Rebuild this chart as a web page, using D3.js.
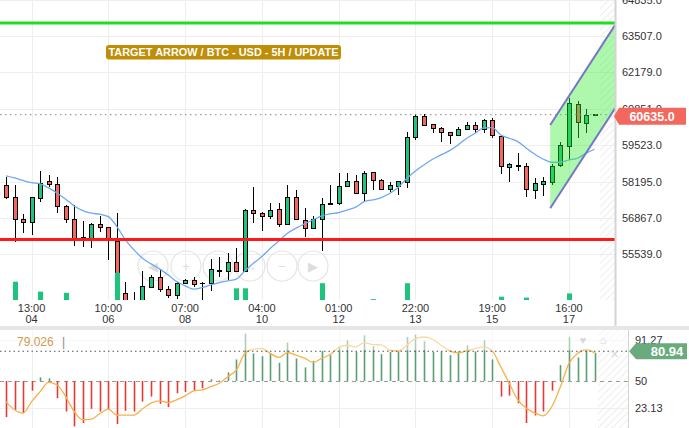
<!DOCTYPE html>
<html>
<head>
<meta charset="utf-8">
<script src="https://cdn.jsdelivr.net/npm/d3@7"></script>
<style>
  body { margin: 0; background: #fff; }
  svg { display: block; font-family: "Liberation Sans", Arial, sans-serif; }
</style>
</head>
<body>
<div id="chart"></div>
<script>
// BTC/USD 5H candles
const candleOpen = [
  58035, 57622, 56820, 56710, 57571, 58181, 58097, 57294, 56820, 56163,
  56112, 56638, 56528, 56003, 54120, 53840, 53803, 54339, 54690, 54241,
  54033, 54485, 54569, 54478, 54460, 54916, 54908, 55251, 54908, 57123,
  57039, 56929, 57185, 56638, 57622, 56783, 56492, 56820, 57367, 57404,
  58024, 58206, 57768, 58520, 58243, 57914, 58024, 58144, 59811, 60577,
  60260, 60140, 59994, 59884, 60103, 60249, 60103, 60431, 59848, 58717,
  58775, 58753, 57863, 58097, 58155, 58775, 59468, 61015, 60322, 60620];
const candleHigh = [
  58352, 58060, 57002, 57622, 58582, 58425, 58352, 57331, 57331, 56747,
  56674, 56929, 56528, 57039, 54544, 54179, 54934, 54788, 54970, 54398,
  54544, 54631, 54726, 54544, 55372, 55445, 55602, 55773, 57196, 57987,
  57075, 57404, 57404, 58060, 57878, 57221, 56929, 57586, 58060, 58520,
  58498, 58425, 58582, 58556, 58301, 58181, 58206, 60012, 60661, 60650,
  60260, 60198, 60016, 60198, 60369, 60380, 60479, 60504, 59884, 58863,
  59228, 58863, 58337, 58374, 58826, 59651, 61234, 61136, 60833, 60650];
const candleLow = [
  57550, 56003, 56331, 56258, 57440, 57987, 57039, 56674, 55857, 55820,
  55784, 56368, 55346, 53730, 53694, 53657, 53767, 54303, 54179, 53938,
  53912, 54449, 54361, 53840, 54204, 54726, 54606, 54908, 54908, 56674,
  56404, 56820, 56550, 56623, 56820, 56163, 56477, 55674, 57331, 57331,
  57987, 57732, 57440, 57878, 57914, 57827, 57695, 57973, 59713, 60234,
  59957, 59651, 59567, 59884, 60078, 59957, 59957, 59775, 58483, 58192,
  58593, 57644, 57571, 57681, 58071, 58717, 58983, 59775, 59957, 60610];
const candleClose = [
  57608, 56820, 56710, 57622, 58133, 58097, 57294, 56820, 56090, 56112,
  56638, 56528, 56090, 53803, 53785, 53767, 54368, 54690, 54241, 54022,
  54485, 54569, 54449, 54460, 54970, 54959, 55251, 54908, 57123, 57039,
  56929, 57148, 56638, 57622, 56820, 56492, 56820, 57367, 57404, 58024,
  58206, 57768, 58498, 58243, 57914, 58035, 58181, 59811, 60577, 60234,
  60140, 59994, 59884, 60103, 60249, 60089, 60431, 59884, 58753, 58801,
  58764, 57914, 58108, 58192, 58753, 59519, 61052, 60359, 60614, 60635];
const volume = [
  0, 61, 0, 0, 28, 0, 0, 24, 0, 0,
  0, 0, 0, 91, 0, 0, 0, 0, 0, 0,
  0, 0, 0, 0, 0, 0, 0, 39, 39, 0,
  0, 0, 0, 0, 0, 0, 0, 56, 0, 0,
  0, 0, 0, 3, 0, 0, 0, 56, 0, 0,
  0, 0, 0, 0, 0, 0, 0, 0, 11, 0,
  0, 8, 0, 0, 0, 0, 22, 0, 0, 0];
const movingAvg = [
  58400, 58327, 58235, 58155, 58108, 57962, 57768, 57550, 57305, 57134,
  57039, 57002, 56915, 56550, 56065, 55700, 55397, 55189, 55007, 54788,
  54544, 54387, 54266, 54325, 54423, 54507, 54569, 54631, 54934, 55215,
  55456, 55762, 56028, 56309, 56492, 56648, 56794, 56940, 57013, 57061,
  57159, 57258, 57462, 57524, 57608, 57768, 57987, 58316, 58582, 58801,
  59009, 59166, 59323, 59530, 59775, 59957, 60155, 60165, 59895, 59775,
  59651, 59410, 59191, 59009, 58899, 58899, 58983, 59045, 59228, 59374];

// oscillator panel
const oscBars = [
  13.7, 21, 17.7, 40.3, 53.7, 52.7, 32.7, 19.3, 4.3, 7.7,
  22, 19.3, 21.7, 6.7, 20, 19.3, 29.3, 34.3, 27, 23.7,
  37.7, 39, 40, 42.7, 51.7, 50.5, 58.7, 71.7, 97.7, 77.7,
  75, 77.7, 68.3, 88.7, 72.7, 63.7, 70.3, 80.3, 76, 85,
  91, 79.3, 96, 85, 77, 79.3, 79.7, 94.3, 96.7, 90,
  79.3, 79.7, 76, 79.7, 86, 79.7, 91, 71.7, 34.3, 35.3,
  27.7, 7.7, 15.3, 19.3, 40.3, 66, 94.3, 73.7, 81, 78.3];
const oscLine = [
  29.3, 21, 17.7, 29.3, 39.3, 48.7, 46, 34.3, 19.3, 11,
  11.7, 17, 21.7, 15.7, 15.7, 15.7, 22, 27.7, 30, 28.3,
  31, 35, 40, 41, 44.3, 47.7, 54.3, 61, 77.7, 82,
  82.7, 77.7, 73.7, 78.7, 76, 73, 68.7, 72.7, 76.7, 83.7,
  86, 84.3, 88.7, 86.7, 86.3, 81, 80, 86, 92.7, 94.3,
  92, 86, 80.3, 78.3, 80.3, 82.7, 84.3, 80.3, 64.3, 47.7,
  31, 22.7, 17.7, 15, 24.3, 44.3, 67.7, 77.7, 81.7, 78.3];

const priceTicks = [55539, 56867, 58195, 59523, 60851, 62179, 63507, 64835];
const oscTicks = [91.27, 50, 23.13];
const timeTickIndex = [3, 12, 21, 30, 39, 48, 57, 66];
const timeTickHour = ['13:00', '10:00', '07:00', '04:00', '01:00', '22:00', '19:00', '16:00'];
const timeTickDay = ['04', '06', '08', '10', '12', '13', '15', '17'];

const resistance = 63980;
const support = 56080;
const lastPrice = 60635;
const channelIndex = [63.8, 71.4];
const channelUpper = [60260, 63908];
const channelLower = [57221, 60870];
const oscLast = 80.94;
const oscLegend = '79.026';
const title = 'TARGET ARROW / BTC - USD - 5H / UPDATE';

const width = 689;
const height = 428;
const plotRight = 615;
const plotBottom = 300;
const oscTop = 330;
const oscRight = 628;

const green = '#1cc47d';
const red = '#f3685e';
const gridColor = '#eeeeee';

const svg = d3.select('#chart').append('svg')
  .attr('width', width)
  .attr('height', height);

// scales
const x = d3.scaleLinear().domain([0, 69]).range([6, 6 + 8.53 * 69]);
const y = d3.scaleLinear().domain([55539, 63507]).range([254.3, 36]);
const yVol = d3.scaleLinear().domain([0, 100]).range([plotBottom, 270]);
const yOsc = d3.scaleLinear().domain([23.13, 91.27]).range([407.7, 340]);

const defs = svg.append('defs');
defs.append('clipPath').attr('id', 'clip-main')
  .append('rect').attr('x', 0).attr('y', 0).attr('width', plotRight).attr('height', plotBottom);
defs.append('clipPath').attr('id', 'clip-osc')
  .append('rect').attr('x', 0).attr('y', oscTop).attr('width', oscRight).attr('height', height - oscTop);
const hatch = defs.append('pattern').attr('id', 'hatch')
  .attr('width', 5).attr('height', 5)
  .attr('patternUnits', 'userSpaceOnUse')
  .attr('patternTransform', 'rotate(45)');
hatch.append('line').attr('x1', 0).attr('y1', 0).attr('x2', 0).attr('y2', 5)
  .attr('stroke', '#e8e8e8').attr('stroke-width', 1.5);

// ---------- main panel ----------
const main = svg.append('g').attr('clip-path', 'url(#clip-main)');

main.append('rect').attr('x', 600).attr('y', 0).attr('width', plotRight - 600).attr('height', plotBottom)
  .attr('fill', 'url(#hatch)');

main.selectAll('.hgrid').data(priceTicks).join('line')
  .attr('class', 'hgrid')
  .attr('x1', 0).attr('x2', plotRight)
  .attr('y1', (d) => Math.round(y(d)) + 0.5).attr('y2', (d) => Math.round(y(d)) + 0.5)
  .attr('stroke', gridColor);

main.selectAll('.vgrid').data(timeTickIndex).join('line')
  .attr('class', 'vgrid')
  .attr('x1', (d) => Math.round(x(d)) + 0.5).attr('x2', (d) => Math.round(x(d)) + 0.5)
  .attr('y1', 0).attr('y2', plotBottom)
  .attr('stroke', gridColor);

// faint navigation buttons overlay
const navX = [153, 186, 218, 250, 282, 313];
const navGlyph = ['◀', '+', '', '↔', '−', '▶'];
main.selectAll('.nav').data(navX).join('circle')
  .attr('class', 'nav')
  .attr('cx', (d) => d).attr('cy', 266).attr('r', 15)
  .attr('fill', 'none').attr('stroke', '#e4e4e4').attr('stroke-width', 1.2);
main.selectAll('.navg').data(navX).join('text')
  .attr('class', 'navg')
  .attr('x', (d) => d).attr('y', 271)
  .attr('text-anchor', 'middle')
  .attr('font-size', 13)
  .attr('fill', '#dddddd')
  .text((d, i) => navGlyph[i]);

const candles = d3.range(candleOpen.length).map((i) => ({
  i,
  o: candleOpen[i],
  h: candleHigh[i],
  l: candleLow[i],
  c: candleClose[i],
}));

const cg = main.append('g').attr('shape-rendering', 'crispEdges');
cg.selectAll('.wick').data(candles).join('line')
  .attr('class', 'wick')
  .attr('x1', (d) => Math.round(x(d.i)) + 0.5).attr('x2', (d) => Math.round(x(d.i)) + 0.5)
  .attr('y1', (d) => y(d.h)).attr('y2', (d) => y(d.l))
  .attr('stroke', '#000');
cg.selectAll('.body').data(candles).join('rect')
  .attr('class', 'body')
  .attr('x', (d) => Math.round(x(d.i)) - 1.5)
  .attr('width', 4)
  .attr('y', (d) => y(Math.max(d.o, d.c)))
  .attr('height', (d) => Math.max(0.5, Math.abs(y(d.o) - y(d.c))))
  .attr('fill', (d) => (d.c >= d.o ? green : red))
  .attr('stroke', '#000');

// volume
main.append('g').selectAll('.vol').data(volume.map((v, i) => ({ v, i })).filter((d) => d.v > 0))
  .join('rect')
  .attr('class', 'vol')
  .attr('x', (d) => Math.round(x(d.i)) - 2)
  .attr('width', 5)
  .attr('y', (d) => yVol(d.v))
  .attr('height', (d) => plotBottom - yVol(d.v))
  .attr('fill', green);

// moving average
main.append('path')
  .datum(movingAvg)
  .attr('fill', 'none')
  .attr('stroke', '#6ea8f2')
  .attr('stroke-width', 1.3)
  .attr('d', d3.line().x((d, i) => x(i)).y((d) => y(d)).curve(d3.curveMonotoneX));

// last price dotted line
main.append('line')
  .attr('x1', 0).attr('x2', plotRight)
  .attr('y1', y(lastPrice)).attr('y2', y(lastPrice))
  .attr('stroke', '#888').attr('stroke-dasharray', '1.5,3.5');

// target / support lines
main.append('line')
  .attr('x1', 0).attr('x2', plotRight)
  .attr('y1', y(resistance)).attr('y2', y(resistance))
  .attr('stroke', '#1ee01e').attr('stroke-width', 3);
main.append('line')
  .attr('x1', 0).attr('x2', plotRight)
  .attr('y1', y(support)).attr('y2', y(support))
  .attr('stroke', '#ff1a1a').attr('stroke-width', 3);

// rising channel
const chPts = [
  [x(channelIndex[0]), y(channelUpper[0])],
  [x(channelIndex[1]), y(channelUpper[1])],
  [x(channelIndex[1]), y(channelLower[1])],
  [x(channelIndex[0]), y(channelLower[0])],
];
main.append('polygon')
  .attr('points', chPts.map((p) => p.join(',')).join(' '))
  .attr('fill', '#33ee33').attr('fill-opacity', 0.4);
main.append('line')
  .attr('x1', chPts[0][0]).attr('y1', chPts[0][1])
  .attr('x2', chPts[1][0]).attr('y2', chPts[1][1])
  .attr('stroke', '#7676c6').attr('stroke-width', 2);
main.append('line')
  .attr('x1', chPts[3][0]).attr('y1', chPts[3][1])
  .attr('x2', chPts[2][0]).attr('y2', chPts[2][1])
  .attr('stroke', '#7676c6').attr('stroke-width', 2);

// title tag
svg.append('rect')
  .attr('x', 106).attr('y', 45).attr('width', 235).attr('height', 14.5).attr('rx', 3)
  .attr('fill', '#c08d06');
svg.append('text')
  .attr('x', 223.5).attr('y', 56)
  .attr('text-anchor', 'middle')
  .attr('font-size', 11).attr('font-weight', 'bold')
  .attr('fill', '#fff')
  .attr('textLength', 230).attr('lengthAdjust', 'spacingAndGlyphs')
  .text(title);

// price axis
svg.append('line')
  .attr('x1', plotRight + 0.5).attr('x2', plotRight + 0.5)
  .attr('y1', 0).attr('y2', 326)
  .attr('stroke', '#d4d4d4').attr('stroke-width', 2);
const yAxis = d3.axisRight(y).tickValues(priceTicks).tickSize(0).tickPadding(7)
  .tickFormat(d3.format('.1f'));
const gy = svg.append('g').attr('transform', `translate(${plotRight},0)`).call(yAxis);
gy.select('.domain').remove();
gy.selectAll('text').attr('font-size', 11).attr('fill', '#333')
  .attr('font-family', '"Liberation Sans", Arial, sans-serif');

// last price tag
const ly = y(lastPrice) + 1.5;
svg.append('polygon')
  .attr('points', `614,${ly} 619,${ly - 8.5} 686,${ly - 8.5} 686,${ly + 8.5} 619,${ly + 8.5}`)
  .attr('fill', red);
svg.append('text')
  .attr('x', 652).attr('y', ly + 4.5)
  .attr('text-anchor', 'middle')
  .attr('font-size', 12.5).attr('font-weight', 'bold')
  .attr('fill', '#fff')
  .text(d3.format('.1f')(lastPrice));

// time axis
const gx = svg.append('g');
gx.selectAll('.th').data(timeTickIndex).join('text')
  .attr('class', 'th')
  .attr('x', (d) => x(d)).attr('y', 312)
  .attr('text-anchor', 'middle').attr('font-size', 11).attr('fill', '#333')
  .text((d, i) => timeTickHour[i]);
gx.selectAll('.td').data(timeTickIndex).join('text')
  .attr('class', 'td')
  .attr('x', (d) => x(d)).attr('y', 322.5)
  .attr('text-anchor', 'middle').attr('font-size', 11).attr('fill', '#333')
  .text((d, i) => timeTickDay[i]);

// panel separator
svg.append('rect').attr('x', 0).attr('y', 326).attr('width', width).attr('height', 4)
  .attr('fill', '#e6e6e6');

// ---------- oscillator panel ----------
const osc = svg.append('g').attr('clip-path', 'url(#clip-osc)');

osc.append('rect').attr('x', 598).attr('y', oscTop).attr('width', oscRight - 598).attr('height', height - oscTop)
  .attr('fill', 'url(#hatch)');

osc.selectAll('.ovgrid').data(timeTickIndex).join('line')
  .attr('class', 'ovgrid')
  .attr('x1', (d) => Math.round(x(d)) + 0.5).attr('x2', (d) => Math.round(x(d)) + 0.5)
  .attr('y1', oscTop).attr('y2', height)
  .attr('stroke', gridColor);
osc.selectAll('.ohgrid').data([oscTicks[0], oscTicks[2]]).join('line')
  .attr('class', 'ohgrid')
  .attr('x1', 0).attr('x2', oscRight)
  .attr('y1', (d) => Math.round(yOsc(d)) + 0.5).attr('y2', (d) => Math.round(yOsc(d)) + 0.5)
  .attr('stroke', gridColor);

osc.append('line')
  .attr('x1', 0).attr('x2', oscRight)
  .attr('y1', Math.round(yOsc(50)) + 0.5).attr('y2', Math.round(yOsc(50)) + 0.5)
  .attr('stroke', '#999').attr('stroke-dasharray', '4,4');

osc.selectAll('.obar').data(oscBars).join('rect')
  .attr('class', 'obar')
  .attr('x', (d, i) => Math.round(x(i)) - 0.3)
  .attr('width', 1.6)
  .attr('y', (d) => Math.min(yOsc(d), yOsc(50)))
  .attr('height', (d) => Math.abs(yOsc(d) - yOsc(50)))
  .attr('fill', (d) => (d >= 50 ? '#5b9f70' : '#e83a34'));

osc.append('path')
  .datum(oscLine)
  .attr('fill', 'none')
  .attr('stroke', '#f9b04c')
  .attr('stroke-width', 1.3)
  .attr('d', d3.line().x((d, i) => x(i)).y((d) => yOsc(d)).curve(d3.curveMonotoneX));

// faded band above the last value
osc.append('rect').attr('x', 0).attr('y', oscTop).attr('width', oscRight)
  .attr('height', yOsc(oscLast) - oscTop)
  .attr('fill', '#fff').attr('fill-opacity', 0.5);

osc.append('line')
  .attr('x1', 0).attr('x2', oscRight)
  .attr('y1', yOsc(oscLast) + 1).attr('y2', yOsc(oscLast) + 1)
  .attr('stroke', '#555').attr('stroke-dasharray', '1.5,3');

// legend
svg.append('text').attr('x', 17).attr('y', 346)
  .attr('font-size', 12).attr('fill', '#cf9a52').text(oscLegend);
svg.append('text').attr('x', 62).attr('y', 346)
  .attr('font-size', 12).attr('fill', '#888').text('|');

// panel icons
svg.append('text').attr('x', 583).attr('y', 344).attr('text-anchor', 'middle')
  .attr('font-size', 11).attr('fill', '#d8d8d8').text('♥');
svg.append('text').attr('x', 603).attr('y', 344).attr('text-anchor', 'middle')
  .attr('font-size', 11).attr('fill', '#d8d8d8').text('⌂');
svg.append('text').attr('x', 614).attr('y', 358).attr('text-anchor', 'middle')
  .attr('font-size', 11).attr('fill', '#d8d8d8').text('✕');

// oscillator axis
svg.append('line')
  .attr('x1', oscRight + 0.5).attr('x2', oscRight + 0.5)
  .attr('y1', oscTop).attr('y2', height)
  .attr('stroke', '#d4d4d4');
const oAxis = d3.axisRight(yOsc).tickValues(oscTicks).tickSize(0).tickPadding(7)
  .tickFormat((d) => String(d));
const go = svg.append('g').attr('transform', `translate(${oscRight},0)`).call(oAxis);
go.select('.domain').remove();
go.selectAll('text').attr('font-size', 11).attr('fill', '#333')
  .attr('font-family', '"Liberation Sans", Arial, sans-serif');

const oy = yOsc(oscLast) + 1;
svg.append('polygon')
  .attr('points', `629,${oy} 636,${oy - 8} 687,${oy - 8} 687,${oy + 8} 636,${oy + 8}`)
  .attr('fill', '#6aab7e');
svg.append('text')
  .attr('x', 667).attr('y', oy + 4.5)
  .attr('text-anchor', 'middle')
  .attr('font-size', 13).attr('font-weight', 'bold')
  .attr('fill', '#fff')
  .text(d3.format('.2f')(oscLast));
</script>
</body>
</html>
